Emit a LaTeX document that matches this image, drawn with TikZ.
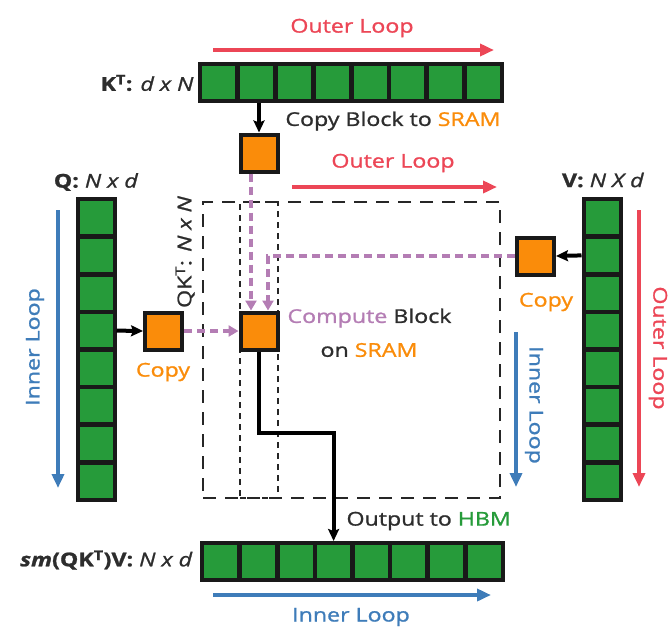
\documentclass[tikz,border=0pt]{standalone}
\usepackage{fontspec}
\setmainfont{Open Sans}[FakeStretch=1.22, FakeBold=1.2]
\usepackage{tikz}
\usepackage{xcolor}
\usetikzlibrary{arrows.meta, calc}

\definecolor{cellgreen}{RGB}{38,155,58}
\definecolor{boxorange}{RGB}{250,140,10}
\definecolor{loopred}{RGB}{236,70,86}
\definecolor{loopblue}{RGB}{62,124,185}
\definecolor{cmppink}{RGB}{180,125,180}
\definecolor{txtgray}{RGB}{45,45,45}

\begin{document}
\begin{tikzpicture}[
    x=1pt, y=-1pt,
    font=\fontsize{19}{22}\selectfont,
    text=txtgray,
    cell/.style={draw=black!90, line width=4pt, fill=cellgreen, minimum width=37pt, minimum height=37pt, inner sep=0pt},
    sram/.style={draw=black!90, line width=4pt, fill=boxorange, minimum width=37pt, minimum height=37pt, inner sep=0pt},
    qkbox/.style={draw=black!85, line width=2.2pt, dash pattern=on 13pt off 9pt, minimum width=297pt, minimum height=296pt, inner sep=0pt},
    colbox/.style={draw=black!85, line width=2.2pt, dash pattern=on 6pt off 5pt, minimum width=38pt, minimum height=296pt, inner sep=0pt},
    blkarr/.style={-{Stealth[length=12pt, width=11pt, inset=2pt]}, line width=4pt, draw=black},
    pinkarr/.style={-{Triangle[length=10pt, width=11pt]}, line width=3.5pt, draw=cmppink, dash pattern=on 8pt off 5pt},
    redloop/.style={-{Triangle[length=14pt, width=12pt]}, line width=4pt, draw=loopred},
    blueloop/.style={-{Triangle[length=14pt, width=12pt]}, line width=4pt, draw=loopblue},
    redtxt/.style={text=loopred},
    bluetxt/.style={text=loopblue},
    orgtxt/.style={text=boxorange}
]
\useasboundingbox (0,0) rectangle (668,629);

% QK^T block and its column
\node[qkbox] (qkt) at (351.5,350) {};
\node[colbox] (qkcol) at (259,350) {};
\node[rotate=90] (qklab) at (185,252) {QK\textsuperscript{T}: \textit{N x N}};

% the four matrices
\foreach \i in {1,...,8} {
    \node[cell] (kt\i) at ({200+37.8*(\i-0.5)},82.5) {};
    \node[cell] (q\i) at (96,{199+37.6*(\i-0.5)}) {};
    \node[cell] (v\i) at (602,{199+37.6*(\i-0.5)}) {};
    \node[cell] (out\i) at ({202+37.6*(\i-0.5)},561.5) {};
}
\node[anchor=east] (ktlab) at (197,83) {\textbf{K\textsuperscript{T}:} \textit{d x N}};
\node (qlab) at (96,182) {\textbf{Q:} \textit{N x d}};
\node (vlab) at (603,180) {\textbf{V:} \textit{N X d}};
\node[anchor=east] (outlab) at (196,560) {\textbf{\textit{sm}(QK\textsuperscript{T})V:} \textit{N x d}};

% blocks in SRAM
\node[sram] (kcopy) at (259,153) {};
\node[sram] (qcopy) at (163.5,331) {};
\node[sram] (comp) at (259,331) {};
\node[sram] (vcopy) at (535.5,256) {};

\node[anchor=east] (kcopylab) at (504,121) {Copy Block to {\color{boxorange}SRAM}};
\node[orgtxt] (qcopylab) at (163,372) {Copy};
\node[orgtxt] (vcopylab) at (546,302) {Copy};
\node[anchor=west] (complab) at (284,318) {{\color{cmppink}Compute} Block};
\node[anchor=west] (sramlab) at (317,350) {on {\color{boxorange}SRAM}};
\node[anchor=west] (hbmlab) at (343,521) {Output to {\color{cellgreen}HBM}};

% data movement
\draw[blkarr] (kcopy.north |- kt2.south) -- (kcopy.north);
\draw[blkarr] (q4.east) -- (qcopy.west);
\draw[blkarr] (v2.west) -- (vcopy.east);
\draw[pinkarr] ([xshift=-8pt]kcopy.south) -- ([xshift=-8pt]comp.north);
\draw[pinkarr] (vcopy.west) -| ([xshift=9pt]comp.north);
\draw[pinkarr] (qcopy.east) -- (comp.west);
\draw[blkarr] (comp.south) -- ++(0,81) -| (out4.north);

% loops
\coordinate (ol1s) at (213,50);
\coordinate (ol1e) at (494,50);
\node[redtxt] (ol1lab) at (352,28) {Outer Loop};
\draw[redloop] (ol1s) -- (ol1e);

\coordinate (ol2s) at (292,187);
\coordinate (ol2e) at (497,187);
\node[redtxt] (ol2lab) at (393,163) {Outer Loop};
\draw[redloop] (ol2s) -- (ol2e);

\coordinate (ol3s) at (639,210);
\coordinate (ol3e) at (639,487);
\node[redtxt, rotate=-90] (ol3lab) at (658,348) {Outer Loop};
\draw[redloop] (ol3s) -- (ol3e);

\coordinate (il1s) at (58,210);
\coordinate (il1e) at (58,488);
\node[bluetxt, rotate=90] (il1lab) at (35,347) {Inner Loop};
\draw[blueloop] (il1s) -- (il1e);

\coordinate (il2s) at (516,332);
\coordinate (il2e) at (516,487);
\node[bluetxt, rotate=-90] (il2lab) at (534,405) {Inner Loop};
\draw[blueloop] (il2s) -- (il2e);

\coordinate (il3s) at (213,595);
\coordinate (il3e) at (491,595);
\node[bluetxt] (il3lab) at (351,617) {Inner Loop};
\draw[blueloop] (il3s) -- (il3e);

\end{tikzpicture}
\end{document}
